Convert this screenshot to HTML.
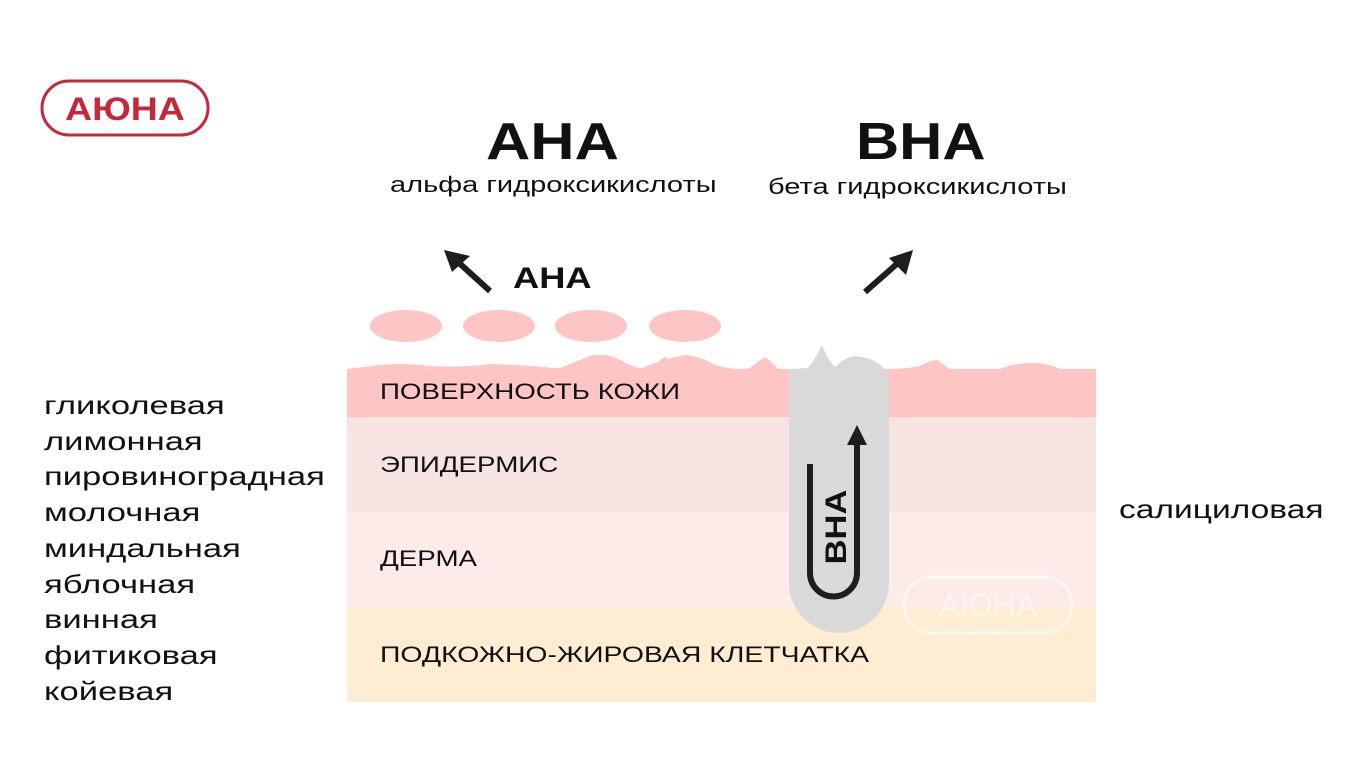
<!DOCTYPE html>
<html><head><meta charset="utf-8"><style>
body{margin:0;width:1366px;height:768px;background:#fff;position:relative;overflow:hidden;font-family:"Liberation Sans",sans-serif;}
.t{position:absolute;white-space:nowrap;color:#111;transform-origin:0 0;}
</style></head><body>
<svg width="1366" height="768" style="position:absolute;left:0;top:0">
<rect x="42" y="81" width="166" height="54" rx="27" fill="none" stroke="#c5283a" stroke-width="3"/>
<text x="125" y="120" text-anchor="middle" font-family="Liberation Sans" font-weight="bold" font-size="32" fill="#c5283a" transform="translate(125,0) scale(1.17,1) translate(-125,0)">АЮНА</text>
<rect x="347" y="369" width="749" height="48" fill="#fdc5c3"/>
<rect x="347" y="417" width="749" height="95" fill="#f6e4e2"/>
<rect x="347" y="512" width="749" height="95" fill="#fdebe9"/>
<rect x="347" y="607" width="749" height="95" fill="#feedd2"/>
<path d="M347 369 L372 366 Q400 362 430 366 Q460 368 490 364 Q540 366 552 368 L560 368 Q575 362 590 356 Q605 352 620 360 Q635 368 645 369 L650 369 Q660 360 665 357 Q672 360 678 369 L1096 369 Z" fill="#fdc5c3"/>
<path d="M640 369 Q660 360 685 355 Q700 356 715 365 Q735 371 750 368 Q760 360 765 357 Q770 360 778 369 Z" fill="#fdc5c3"/>
<path d="M889 369 Q905 369 920 366 Q930 360 938 360 Q943 365 950 369 Z M1000 369 Q1010 364 1030 363 Q1045 362 1060 369 Z" fill="#fdc5c3"/>
<path d="M789 369 L789 583 A50 50 0 0 0 889 583 L889 376 Q880 358 855 356 Q845 357 835 367 Q828 360 822 345 Q815 360 808 368 Z" fill="#d9d9d9"/>
<ellipse cx="406" cy="326" rx="36" ry="16" fill="#fdc5c3"/>
<ellipse cx="499" cy="326" rx="36" ry="16" fill="#fdc5c3"/>
<ellipse cx="591" cy="326" rx="36" ry="16" fill="#fdc5c3"/>
<ellipse cx="685" cy="326" rx="36" ry="16" fill="#fdc5c3"/>
<line x1="490" y1="291" x2="458" y2="262" stroke="#1e1e1e" stroke-width="6"/>
<polygon points="444,250 470,256 452,272" fill="#1e1e1e"/>
<line x1="865" y1="292" x2="899" y2="262" stroke="#1e1e1e" stroke-width="6"/>
<polygon points="913,250 906,275 889,258" fill="#1e1e1e"/>
<path d="M810 464 L810 573 A23.5 23.5 0 0 0 857 573 L857 442" fill="none" stroke="#1e1e1e" stroke-width="6"/>
<polygon points="857,425 847,445 867,445" fill="#1e1e1e"/>
<text transform="translate(846,527) rotate(-90) scale(1.15,1)" text-anchor="middle" font-family="Liberation Sans" font-weight="bold" font-size="30" fill="#111">BHA</text>
<rect x="904" y="577" width="168" height="56" rx="28" fill="none" stroke="#fff" stroke-opacity="0.5" stroke-width="3"/>
<text x="988" y="616" text-anchor="middle" font-family="Liberation Sans" font-size="32" fill="#fff" fill-opacity="0.5">АЮНА</text>
</svg>
<div class="t" style="left:486px;top:112px;font-size:52px;font-weight:bold;transform:scaleX(1.18)">АНА</div>
<div class="t" style="left:390px;top:172px;font-size:22px;transform:scaleX(1.32)">альфа гидроксикислоты</div>
<div class="t" style="left:856px;top:112px;font-size:52px;font-weight:bold;transform:scaleX(1.15)">BHA</div>
<div class="t" style="left:768px;top:174px;font-size:22px;transform:scaleX(1.32)">бета гидроксикислоты</div>
<div class="t" style="left:513px;top:262px;font-size:30px;font-weight:bold;transform:scaleX(1.21)">АНА</div>
<div class="t" style="left:380px;top:379px;font-size:22px;transform:scaleX(1.26)">ПОВЕРХНОСТЬ КОЖИ</div>
<div class="t" style="left:380px;top:452px;font-size:22px;transform:scaleX(1.26)">ЭПИДЕРМИС</div>
<div class="t" style="left:380px;top:546px;font-size:22px;transform:scaleX(1.26)">ДЕРМА</div>
<div class="t" style="left:380px;top:642px;font-size:22px;transform:scaleX(1.29)">ПОДКОЖНО-ЖИРОВАЯ КЛЕТЧАТКА</div>
<div class="t" style="left:1119px;top:494px;font-size:26px;transform:scaleX(1.29)">салициловая</div>
<div class="t" style="left:44px;top:388px;font-size:26px;line-height:35.7px;transform:scaleX(1.33)">гликолевая<br>лимонная<br>пировиноградная<br>молочная<br>миндальная<br>яблочная<br>винная<br>фитиковая<br>койевая</div>
</body></html>
